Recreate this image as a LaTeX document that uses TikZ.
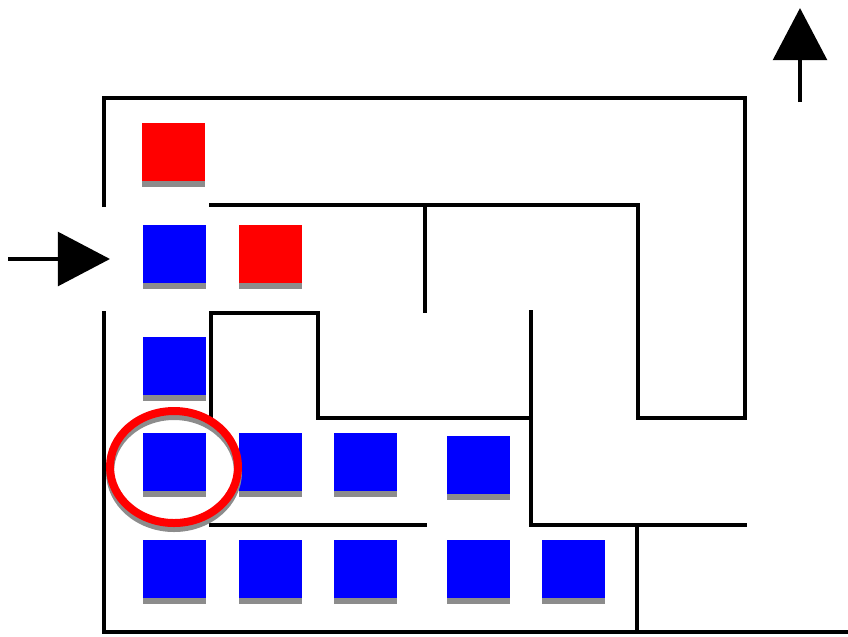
\documentclass[tikz,border=0pt]{standalone}
\usetikzlibrary{arrows.meta,shapes.geometric}
\definecolor{boxblue}{HTML}{0000FF}
\definecolor{boxred}{HTML}{FF0000}
\definecolor{shade}{HTML}{8C8C8C}

\begin{document}
\begin{tikzpicture}[
  x=0.03cm, y=-0.03cm,
  wall/.style={line width=0.14cm},
  cell/.style={rectangle, inner sep=0pt, minimum width=1.89cm, minimum height=1.74cm, preaction={fill=shade, transform canvas={yshift=-0.18cm}}},
  visited/.style={cell, fill=boxblue},
  open/.style={cell, fill=boxred},
  ring/.style={ellipse, draw=boxred, line width=0.24cm, minimum width=3.84cm, minimum height=3.36cm, inner sep=0pt, preaction={draw=shade, line width=0.24cm, transform canvas={yshift=-0.15cm}}},
  flow/.style={line width=0.14cm, -{Triangle[length=1.56cm, width=1.6cm]}}
]
\useasboundingbox (0,0) rectangle (848,636);

% maze walls
\draw[wall] (104,207) -- (104,98) -- (745,98) -- (745,418) -- (638,418) -- (638,205) -- (209,205);
\draw[wall] (425,205) -- (425,313);
\draw[wall] (211,420) -- (211,313) -- (318,313) -- (318,418) -- (531,418);
\draw[wall] (531,310) -- (531,525) -- (747,525);
\draw[wall] (209,525) -- (427,525);
\draw[wall] (104,311) -- (104,632) -- (848,632);
\draw[wall] (637,525) -- (637,632);

% cells
\node[open] (r1) at (173.5,152) {};
\node[open] (r2) at (270.5,254) {};
\node[visited] (b1) at (174.5,254) {};
\node[visited] (b2) at (174.5,366) {};
\node[visited] (b3) at (174.5,461.5) {};
\node[visited] (b4) at (270.5,461.5) {};
\node[visited] (b5) at (365.5,461.5) {};
\node[visited] (b6) at (478,464.5) {};
\node[visited] (b7) at (174.5,568.5) {};
\node[visited] (b8) at (270.5,568.5) {};
\node[visited] (b9) at (365.5,568.5) {};
\node[visited] (b10) at (478.5,568.5) {};
\node[visited] (b11) at (573.5,568.5) {};

% current cell
\node[ring] (cur) at (174,467) {};

% entry and exit
\coordinate (inS) at (8,259);
\coordinate (inE) at (110,259);
\coordinate (outS) at (800,102);
\coordinate (outE) at (800,8);
\draw[flow] (inS) -- (inE);
\draw[flow] (outS) -- (outE);
\end{tikzpicture}
\end{document}
